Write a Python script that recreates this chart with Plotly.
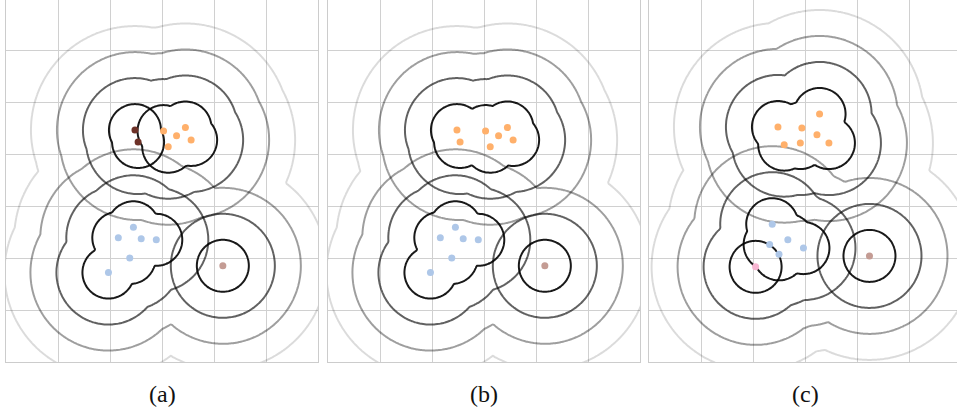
import numpy as np
import plotly.graph_objects as go

# ---------------- data (grid units; 1 unit = one grid cell) ----------------
# panels (a) and (b): same points
ab_pair_x = [2.48, 2.54]
ab_pair_y = [4.46, 4.23]
ab_orange_x = [3.03, 3.28, 3.45, 3.56, 3.12]
ab_orange_y = [4.44, 4.35, 4.51, 4.27, 4.14]
ab_blue_x = [2.45, 2.16, 2.60, 2.89, 2.38, 1.97]
ab_blue_y = [2.59, 2.39, 2.37, 2.35, 2.00, 1.72]
ab_brown_x = [4.17]
ab_brown_y = [1.85]

# panel (c)
c_orange_x = [2.48, 2.94, 3.28, 3.23, 3.46, 2.91, 2.60]
c_orange_y = [4.52, 4.50, 4.77, 4.37, 4.21, 4.21, 4.18]
c_blue_x = [2.37, 2.67, 2.97, 2.32, 2.50]
c_blue_y = [2.65, 2.35, 2.19, 2.26, 2.07]
c_pink_x = [2.05]
c_pink_y = [1.83]
c_brown_x = [4.24]
c_brown_y = [2.04]

levels = [0.5, 1.0, 1.5, 2.0]
panel_labels = ["(a)", "(b)", "(c)"]

# ---------------- styles ----------------
level_colors = {0.5: "rgba(0,0,0,0.9)", 1.0: "rgba(0,0,0,0.62)",
                1.5: "rgba(0,0,0,0.38)", 2.0: "rgba(0,0,0,0.14)"}
point_colors = {"orange": "#ffb06b", "blue": "#aec7e8", "brown": "#c49c94",
                "pair": "#6e3228", "pink": "#f7b6d2"}

W, H = 957, 412
UNIT = 52.0
BOTTOM_PX = 362

sets_ab = {"pair": (ab_pair_x, ab_pair_y), "orange": (ab_orange_x, ab_orange_y),
           "blue": (ab_blue_x, ab_blue_y), "brown": (ab_brown_x, ab_brown_y)}
sets_ab_b = {"orange": (ab_pair_x + ab_orange_x, ab_pair_y + ab_orange_y),
             "blue": (ab_blue_x, ab_blue_y), "brown": (ab_brown_x, ab_brown_y)}
sets_c = {"orange": (c_orange_x, c_orange_y), "blue": (c_blue_x, c_blue_y),
          "pink": (c_pink_x, c_pink_y), "brown": (c_brown_x, c_brown_y)}

panels = [
    dict(x0=6, x1=318, sets=sets_ab,
         groups={0.5: [["pair"], ["orange"], ["blue"], ["brown"]],
                 1.0: [["pair", "orange"], ["blue"], ["brown"]],
                 1.5: [["pair", "orange"], ["blue", "brown"]],
                 2.0: [["pair", "orange", "blue", "brown"]]}),
    dict(x0=328, x1=640, sets=sets_ab_b,
         groups={0.5: [["orange"], ["blue"], ["brown"]],
                 1.0: [["orange"], ["blue"], ["brown"]],
                 1.5: [["orange"], ["blue", "brown"]],
                 2.0: [["orange", "blue", "brown"]]}),
    dict(x0=649, x1=957, sets=sets_c,
         groups={0.5: [["orange"], ["blue"], ["pink"], ["brown"]],
                 1.0: [["orange"], ["blue", "pink"], ["brown"]],
                 1.5: [["orange"], ["blue", "pink", "brown"]],
                 2.0: [["orange", "blue", "pink", "brown"]]}),
]

fig = go.Figure()
STEP = 0.03


def dist_field(px, py, level):
    px = np.asarray(px, float)
    py = np.asarray(py, float)
    pad = level + 0.25
    xs = np.arange(px.min() - pad, px.max() + pad + STEP, STEP)
    ys = np.arange(py.min() - pad, py.max() + pad + STEP, STEP)
    X, Y = np.meshgrid(xs, ys)
    d = np.full(X.shape, np.inf)
    for a, b in zip(px, py):
        d = np.minimum(d, np.hypot(X - a, Y - b))
    return np.round(xs, 3), np.round(ys, 3), np.round(d, 3)


for i, p in enumerate(panels):
    ax = "" if i == 0 else str(i + 1)
    xa, ya = "x" + ax, "y" + ax
    for lev in levels:
        for grp in p["groups"][lev]:
            gx, gy = [], []
            for nm in grp:
                gx += list(p["sets"][nm][0])
                gy += list(p["sets"][nm][1])
            xs, ys, z = dist_field(gx, gy, lev)
            col = level_colors[lev]
            fig.add_trace(go.Contour(
                x=xs, y=ys, z=z, autocontour=False,
                contours=dict(start=lev, end=lev, size=0.5, coloring="lines"),
                colorscale=[[0, col], [1, col]], showscale=False,
                line=dict(width=2, smoothing=1), hoverinfo="skip",
                xaxis=xa, yaxis=ya, showlegend=False))
    for nm, (sx, sy) in p["sets"].items():
        fig.add_trace(go.Scatter(
            x=sx, y=sy, mode="markers",
            marker=dict(size=7, color=point_colors[nm], line=dict(width=0)),
            xaxis=xa, yaxis=ya, showlegend=False, hoverinfo="skip"))

    xr = (p["x1"] - p["x0"]) / UNIT
    yr = BOTTOM_PX / UNIT
    axis_common = dict(showgrid=True, gridcolor="#d0d0d0", gridwidth=1,
                       dtick=1, tick0=0, showticklabels=False, ticks="",
                       zeroline=False, showline=True, linecolor="#cccccc",
                       linewidth=1.3, fixedrange=True)
    fig.update_layout(**{
        "xaxis" + ax: dict(axis_common, domain=[p["x0"] / W, p["x1"] / W],
                           range=[0, xr], anchor=ya),
        "yaxis" + ax: dict(axis_common, domain=[(H - BOTTOM_PX) / H, 1],
                           range=[0, yr], anchor=xa, mirror=True),
    })
    fig.add_annotation(text=panel_labels[i], xref="paper", yref="paper",
                       x=((p["x0"] + p["x0"] + 312) / 2) / W, y=(H - 394) / H,
                       xanchor="center", yanchor="middle", showarrow=False,
                       font=dict(family="Liberation Serif, DejaVu Serif, serif",
                                 size=24, color="#111"))

fig.update_layout(width=W, height=H, margin=dict(l=0, r=0, t=0, b=0),
                  paper_bgcolor="white", plot_bgcolor="white")
fig.write_html("out.html", config={"displayModeBar": False},
               post_script="document.body.style.margin='0';"
                           "document.body.style.padding='0';"
                           "document.body.style.overflow='hidden';")
